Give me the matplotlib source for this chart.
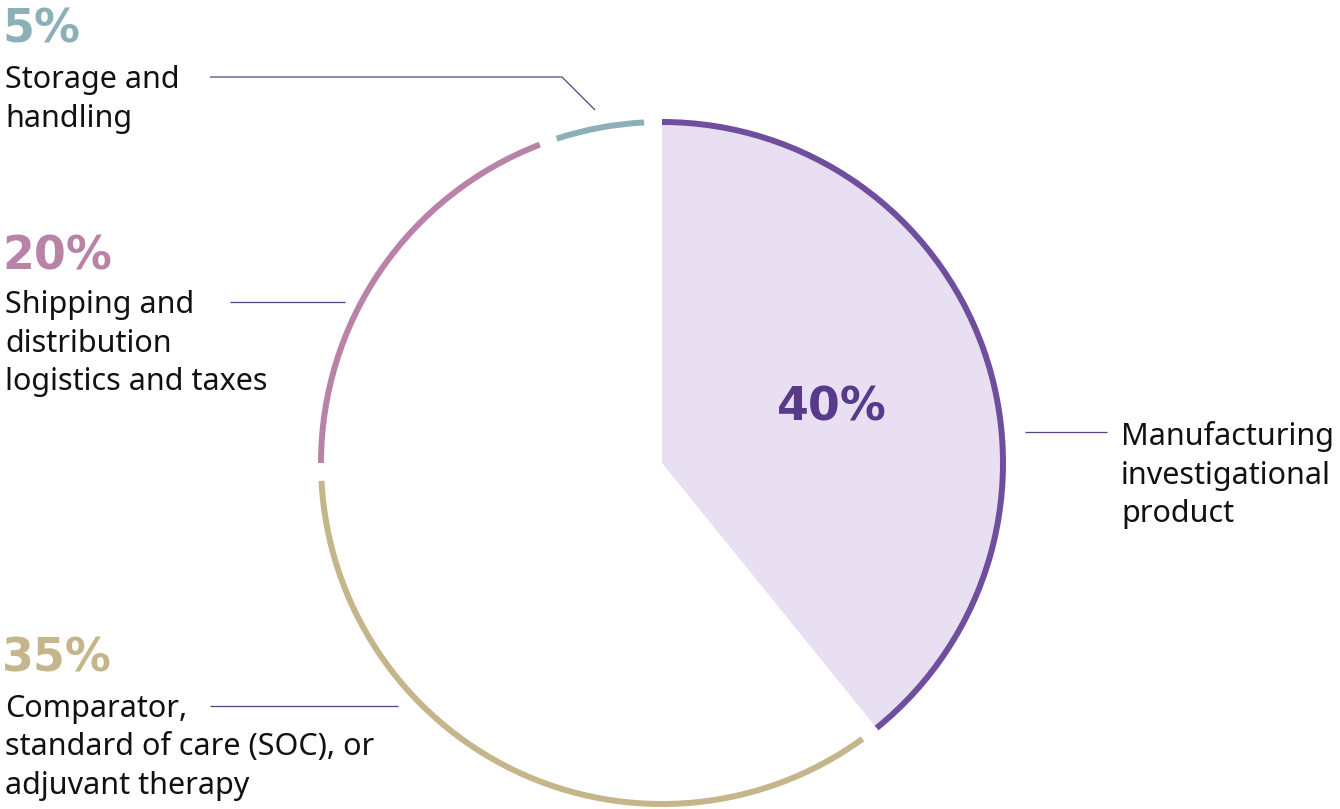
import numpy as np
import matplotlib.pyplot as plt
from matplotlib.patches import Wedge

# cost breakdown, clockwise from 12 o'clock
categories = ["Manufacturing\ninvestigational\nproduct",
              "Comparator,\nstandard of care (SOC), or\nadjuvant therapy",
              "Shipping and\ndistribution\nlogistics and taxes",
              "Storage and\nhandling"]
shares = [40, 35, 20, 5]
pct_labels = ["40%", "35%", "20%", "5%"]
ring_colors = ["#6f4f9d", "#c4b58a", "#b983a7", "#8cafb8"]
pct_colors = ["#573a8a", "#c4b58a", "#b983a7", "#8cafb8"]

FILL = "#e8dff2"
LEADER = "#57407c"

W, H = 1340, 809
cx, cy = 662, 463
R_OUT = 344
RING_W = 6
GAP = 3.0  # degrees left open at the end of each arc

# label placement: (x of text, baseline of pct, baseline of first text line)
label_pos = [None, (5, 672, 717), (5, 270, 313), (5, 42, 88)]
line_gap = 38.5
# leader lines in pixel coordinates
leaders = [
    [(1025, 432), (1107, 432)],
    [(210, 706), (398, 706)],
    [(230, 302), (345, 302)],
    [(210, 77), (562, 77), (595, 110)],
]

fig = plt.figure(figsize=(W / 100, H / 100), dpi=100)
ax = fig.add_axes([0, 0, 1, 1])
ax.set_xlim(0, W)
ax.set_ylim(H, 0)
ax.axis("off")

body_font = ["Noto Sans", "DejaVu Sans"]
pct_font = ["DejaVu Sans"]

start = 90.0  # screen angle, going clockwise
for i, val in enumerate(shares):
    span = val * 3.6
    a = start
    b = start - span + GAP
    # y axis points down, so screen angles are negated for the patches
    if i == 0:
        ax.add_patch(Wedge((cx, cy), R_OUT - RING_W / 2, -a, -b,
                           facecolor=FILL, edgecolor="none", zorder=1))
    ax.add_patch(Wedge((cx, cy), R_OUT, -a, -b, width=RING_W,
                       facecolor=ring_colors[i], edgecolor="none", zorder=2))
    start -= span

for pts in leaders:
    xs, ys = zip(*pts)
    ax.plot(xs, ys, color=LEADER, lw=0.9, solid_capstyle="butt", zorder=3)

# big slice gets its number inside the filled wedge
ax.text(832, 420, pct_labels[0], color=pct_colors[0], fontsize=33,
        fontweight="bold", family=pct_font, ha="center", va="baseline")
for j, line in enumerate(categories[0].split("\n")):
    ax.text(1121, 445 + j * line_gap, line, color="#111111", fontsize=22,
            family=body_font, ha="left", va="baseline")

for i in range(1, 4):
    x, yp, yt = label_pos[i]
    ax.text(x - 3, yp, pct_labels[i], color=pct_colors[i], fontsize=33,
            fontweight="bold", family=pct_font, ha="left", va="baseline")
    for j, line in enumerate(categories[i].split("\n")):
        ax.text(x, yt + j * line_gap, line, color="#111111", fontsize=22,
                family=body_font, ha="left", va="baseline")

fig.savefig("out.png", dpi=100, facecolor="white")
